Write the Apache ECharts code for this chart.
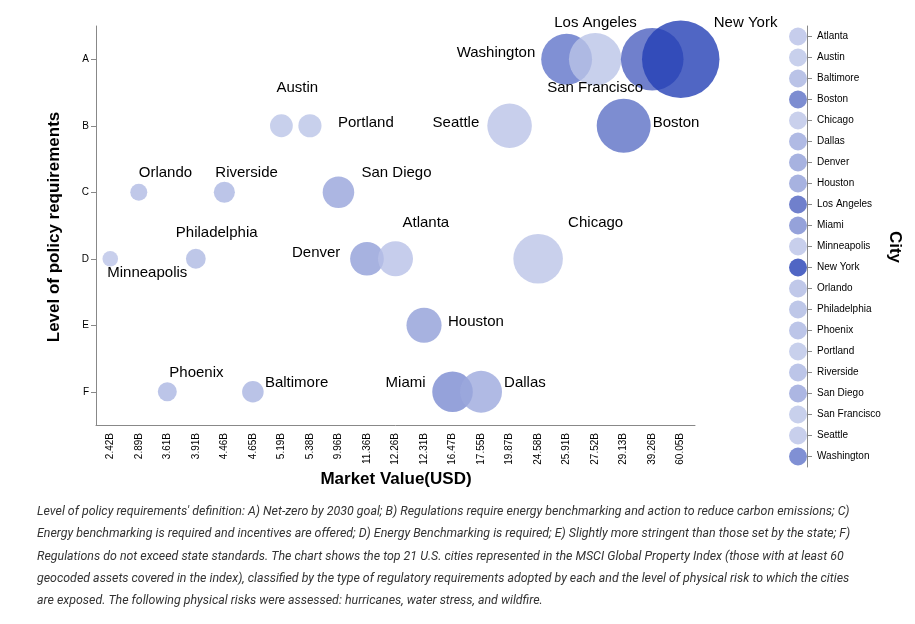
<!DOCTYPE html>
<html>
<head>
<meta charset="utf-8">
<script src="https://cdn.jsdelivr.net/npm/echarts@6/dist/echarts.min.js"></script>
<style>
html,body{margin:0;padding:0;background:#fff;}
#chart{width:915px;height:624px;}
</style>
</head>
<body>
<div id="chart"></div>
<script>
// ---- data ----
const cities = ['Minneapolis','Orlando','Phoenix','Philadelphia','Riverside','Baltimore','Austin','Portland','San Diego','Denver','Atlanta','Houston','Miami','Dallas','Seattle','Chicago','Washington','San Francisco','Boston','Los Angeles','New York'];
const marketValues = [2.42,2.89,3.61,3.91,4.46,4.65,5.19,5.38,9.96,11.36,12.26,12.31,16.47,17.55,19.87,24.58,25.91,27.52,29.13,39.26,60.05];
const policyLevels = ['D','C','F','D','C','F','B','B','C','D','D','E','F','F','B','D','A','A','B','A','A'];
const xTickLabels = ['2.42B','2.89B','3.61B','3.91B','4.46B','4.65B','5.19B','5.38B','9.96B','11.36B','12.26B','12.31B','16.47B','17.55B','19.87B','24.58B','25.91B','27.52B','29.13B','39.26B','60.05B'];
const yLevels = ['A','B','C','D','E','F'];
const legendCities = ['Atlanta','Austin','Baltimore','Boston','Chicago','Dallas','Denver','Houston','Los Angeles','Miami','Minneapolis','New York','Orlando','Philadelphia','Phoenix','Portland','Riverside','San Diego','San Francisco','Seattle','Washington'];

// ---- styles ----
const cityColors = {
  'Atlanta':'rgba(184,192,231,0.8)','Austin':'rgba(186,196,231,0.8)','Baltimore':'rgba(169,180,225,0.8)',
  'Boston':'rgba(92,112,197,0.8)','Chicago':'rgba(187,196,231,0.8)','Dallas':'rgba(156,169,221,0.8)',
  'Denver':'rgba(145,159,216,0.8)','Houston':'rgba(145,159,216,0.8)','Los Angeles':'rgba(76,96,191,0.8)',
  'Miami':'rgba(122,139,209,0.8)','Minneapolis':'rgba(186,195,231,0.8)','New York':'rgba(36,64,181,0.8)',
  'Orlando':'rgba(176,186,227,0.8)','Philadelphia':'rgba(174,185,226,0.8)','Phoenix':'rgba(171,182,226,0.8)',
  'Portland':'rgba(186,196,231,0.8)','Riverside':'rgba(171,182,226,0.8)','San Diego':'rgba(151,164,219,0.8)',
  'San Francisco':'rgba(186,196,231,0.8)','Seattle':'rgba(186,195,231,0.8)','Washington':'rgba(96,116,201,0.8)'
};
const labelOffsets = {
  'Minneapolis':[-3,14],'Orlando':[0,-19],'Riverside':[-9,-19],'Philadelphia':[-20,-26],'Phoenix':[2,-19],
  'Baltimore':[12,-9],'Austin':[-5,-38],'Portland':[28,-3],'San Diego':[23,-19],'Denver':[-75,-6],
  'Atlanta':[7,-36],'Houston':[24,-3],'Miami':[-67,-9],'Dallas':[23,-9],'Seattle':[-77,-3],
  'Chicago':[30,-36],'Washington':[-110,-6],'San Francisco':[-48,29],'Los Angeles':[-98,-36],
  'Boston':[29,-3],'New York':[33,-36]
};

const axisColor = '#888';
const fontFam = '"Liberation Sans", Arial, sans-serif';
const mainData = cities.map((c, i) => ({
  name: c,
  value: [xTickLabels[i], policyLevels[i], marketValues[i]],
  itemStyle: { color: cityColors[c], opacity: 1 },
  label: {
    show: true, formatter: c, position: 'inside', align: 'left', verticalAlign: 'middle',
    offset: labelOffsets[c], color: '#000', fontSize: 15, fontFamily: fontFam
  }
}));
const legendData = legendCities.map(c => ({
  value: [0.5, c],
  itemStyle: { color: cityColors[c], opacity: 1 }
}));

const footLines = [
  "Level of policy requirements' definition: A) Net-zero by 2030 goal; B) Regulations require energy benchmarking and action to reduce carbon emissions; C)",
  "Energy benchmarking is required and incentives are offered; D) Energy Benchmarking is required; E) Slightly more stringent than those set by the state; F)",
  "Regulations do not exceed state standards. The chart shows the top 21 U.S. cities represented in the MSCI Global Property Index (those with at least 60",
  "geocoded assets covered in the index), classified by the type of regulatory requirements adopted by each and the level of physical risk to which the cities",
  "are exposed. The following physical risks were assessed: hurricanes, water stress, and wildfire."
];

const chart = echarts.init(document.getElementById('chart'), null, { renderer: 'canvas' });
const option = {
  animation: false,
  grid: [
    { left: 96, top: 26, width: 599, height: 399 },
    { left: 789, top: 26, width: 18, height: 441 }
  ],
  xAxis: [
    {
      gridIndex: 0, type: 'category', data: xTickLabels, boundaryGap: true,
      axisLine: { lineStyle: { color: axisColor } },
      axisTick: { alignWithLabel: true, length: 5, lineStyle: { color: axisColor } },
      axisLabel: { rotate: 90, fontSize: 10, color: '#000', margin: 8, fontFamily: fontFam },
      splitLine: { show: false }
    },
    { gridIndex: 1, type: 'value', min: 0, max: 1, show: false }
  ],
  yAxis: [
    {
      gridIndex: 0, type: 'category', data: yLevels, inverse: true, boundaryGap: true,
      axisLine: { show: true, onZero: false, lineStyle: { color: axisColor } },
      axisTick: { show: true, alignWithLabel: true, length: 5, lineStyle: { color: axisColor } },
      axisLabel: { fontSize: 10, color: '#000', margin: 7, fontFamily: fontFam },
      splitLine: { show: false }
    },
    {
      gridIndex: 1, type: 'category', data: legendCities, inverse: true, position: 'right', boundaryGap: true,
      axisLine: { show: true, onZero: false, lineStyle: { color: axisColor } },
      axisTick: { show: true, alignWithLabel: true, length: 5, inside: false, lineStyle: { color: axisColor } },
      axisLabel: { fontSize: 10, color: '#000', margin: 10, fontFamily: fontFam },
      splitLine: { show: false }
    }
  ],
  series: [
    {
      type: 'scatter', xAxisIndex: 0, yAxisIndex: 0,
      symbolSize: v => 10 * Math.sqrt(v[2]),
      data: mainData
    },
    {
      type: 'scatter', xAxisIndex: 1, yAxisIndex: 1,
      symbolSize: 18,
      data: legendData
    }
  ],
  graphic: [
    {
      type: 'text', x: 396, y: 479,
      style: { text: 'Market Value(USD)', font: 'bold 17px "Liberation Sans", Arial, sans-serif', fill: '#000', align: 'center', verticalAlign: 'middle' }
    },
    {
      type: 'text', x: 54, y: 227, rotation: Math.PI / 2,
      style: { text: 'Level of policy requirements', font: 'bold 17px "Liberation Sans", Arial, sans-serif', fill: '#000', align: 'center', verticalAlign: 'middle' }
    },
    {
      type: 'text', x: 895, y: 247, rotation: -Math.PI / 2,
      style: { text: 'City', font: 'bold 17px "Liberation Sans", Arial, sans-serif', fill: '#000', align: 'center', verticalAlign: 'middle' }
    }
  ].concat(footLines.map((t, i) => ({
    type: 'text', x: 37, y: 512 + i * 22.3,
    style: { text: t, font: 'italic 12.4px Roboto, sans-serif', fill: '#333', align: 'left', verticalAlign: 'middle' }
  })))
};
chart.setOption(option);
</script>
</body>
</html>
